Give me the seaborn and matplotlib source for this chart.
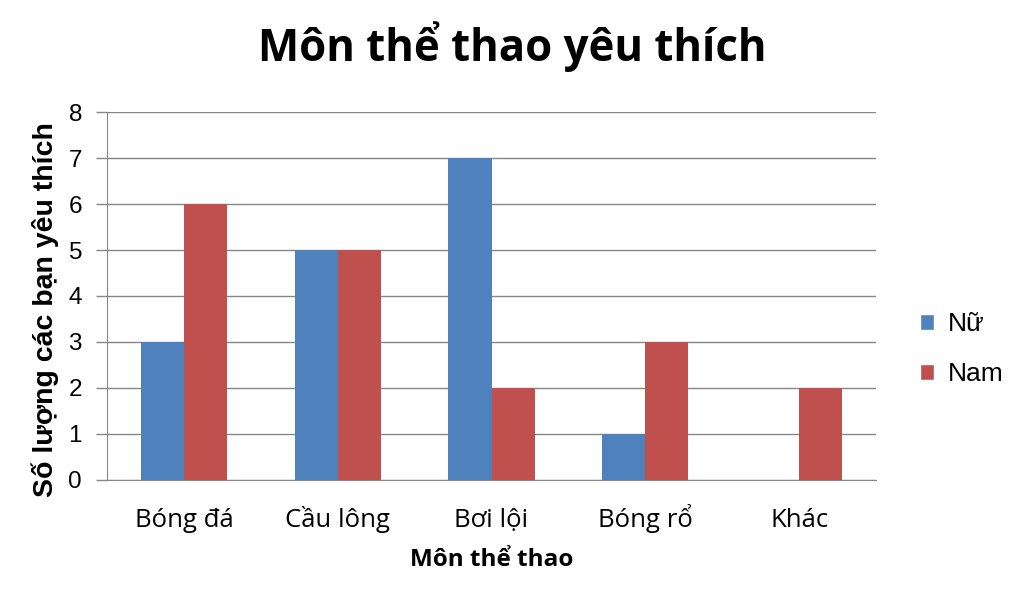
import matplotlib
matplotlib.use("Agg")
import matplotlib.pyplot as plt
import seaborn as sns
import pandas as pd
from matplotlib.patches import Patch

# Data
categories = ["Bóng đá", "Cầu lông", "Bơi lội", "Bóng rổ", "Khác"]
nu = [3, 5, 7, 1, 0]
nam = [6, 5, 2, 3, 2]
series = ["Nữ", "Nam"]
colors = ["#4F81BD", "#C0504D"]

df = pd.DataFrame({
    "Môn": categories * 2,
    "Giới": ["Nữ"] * len(categories) + ["Nam"] * len(categories),
    "Số lượng": nu + nam,
})

sns.set_style("white")
plt.rcParams["font.family"] = ["Liberation Sans", "DejaVu Sans"]
plt.rcParams["text.color"] = "black"
plt.rcParams["axes.labelcolor"] = "black"

fig = plt.figure(figsize=(10.24, 5.99), dpi=100)
ax = fig.add_axes([0.1045, 0.1987, 0.751, 0.6143])

sns.barplot(data=df, x="Môn", y="Số lượng", hue="Giới", order=categories,
            hue_order=series, palette=colors, width=0.56, gap=0,
            saturation=1, linewidth=0, ax=ax, legend=False)

ax.set_ylim(0, 8)
ax.set_xlim(-0.5, len(categories) - 0.5)
ax.set_yticks(range(0, 9))
ax.yaxis.grid(True, color="#868686", linewidth=1)
ax.set_axisbelow(True)
for s in ["top", "right"]:
    ax.spines[s].set_visible(False)
ax.spines["left"].set_color("#868686")
ax.spines["bottom"].set_color("#868686")
ax.tick_params(axis="y", left=True, length=8, width=1, color="#868686",
               labelcolor="black", labelsize=17.5, pad=10)
ax.tick_params(axis="x", length=0, pad=34, labelcolor="black")
for lab in ax.get_xticklabels():
    lab.set_fontfamily(["Open Sans", "DejaVu Sans"])
    lab.set_fontsize(18.5)
    lab.set_verticalalignment("baseline")

ax.set_xlabel("Môn thể thao", fontsize=17.5, fontweight="bold",
              family=["Open Sans", "DejaVu Sans"])
ax.xaxis.set_label_coords(0.5, -0.217)
ax.xaxis.label.set_verticalalignment("center")
ax.set_ylabel("Số lượng các bạn yêu thích", fontsize=20.5, fontweight="bold")
ax.yaxis.set_label_coords(-0.081, 0.462)
ax.yaxis.label.set_verticalalignment("center")

fig.text(0.5, 0.922, "Môn thể thao yêu thích", ha="center", va="center",
         fontsize=31.5, fontweight="bold", family=["Open Sans", "DejaVu Sans"])

handles = [Patch(facecolor=c, label=s) for c, s in zip(colors, series)]
fig.legend(handles=handles, loc="center left", bbox_to_anchor=(0.875, 0.417),
           frameon=False, fontsize=19, handlelength=0.55, handleheight=0.55,
           handletextpad=0.5, labelspacing=1.0)

fig.savefig("out.png", dpi=100)
